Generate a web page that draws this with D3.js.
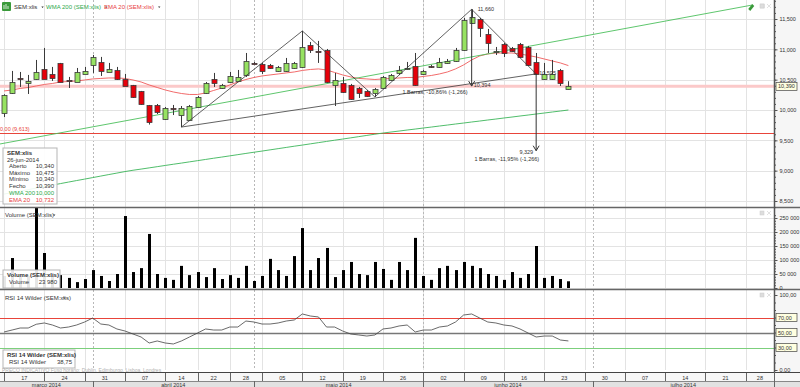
<!DOCTYPE html>
<html>
<head>
<meta charset="utf-8">
<script src="https://cdn.jsdelivr.net/npm/d3@7"></script>
<style>
  body { margin: 0; background: #fff; }
  svg { display: block; }
  text { font-family: "Liberation Sans", Arial, sans-serif; font-size: 6px; fill: #333; }
</style>
</head>
<body>
<script>
// SEM:xlis daily bars, 17 mar 2014 - 26 jun 2014
var days = ["2014-03-17","2014-03-18","2014-03-19","2014-03-20","2014-03-21","2014-03-24","2014-03-25","2014-03-26","2014-03-27","2014-03-28",
  "2014-03-31","2014-04-01","2014-04-02","2014-04-03","2014-04-04","2014-04-07","2014-04-08","2014-04-09","2014-04-10","2014-04-11",
  "2014-04-14","2014-04-15","2014-04-16","2014-04-17","2014-04-22","2014-04-23","2014-04-24","2014-04-25","2014-04-28","2014-04-29",
  "2014-04-30","2014-05-02","2014-05-05","2014-05-06","2014-05-07","2014-05-08","2014-05-09","2014-05-12","2014-05-13","2014-05-14",
  "2014-05-15","2014-05-16","2014-05-19","2014-05-20","2014-05-21","2014-05-22","2014-05-23","2014-05-26","2014-05-27","2014-05-28",
  "2014-05-29","2014-05-30","2014-06-02","2014-06-03","2014-06-04","2014-06-05","2014-06-06","2014-06-09","2014-06-10","2014-06-11",
  "2014-06-12","2014-06-13","2014-06-16","2014-06-17","2014-06-18","2014-06-19","2014-06-20","2014-06-23","2014-06-24","2014-06-25",
  "2014-06-26"]
var futureDays = ["2014-06-27","2014-06-30","2014-07-01","2014-07-02","2014-07-03","2014-07-04","2014-07-07","2014-07-08","2014-07-09",
  "2014-07-10","2014-07-11","2014-07-14","2014-07-15","2014-07-16","2014-07-17","2014-07-18","2014-07-21","2014-07-22","2014-07-23",
  "2014-07-24","2014-07-25","2014-07-28","2014-07-29","2014-07-30","2014-07-31"]

var opens = [9.950,10.281,10.528,10.446,10.512,10.677,10.594,10.776,10.495,10.462,
  10.594,10.743,10.792,10.627,10.660,10.512,10.413,10.314,10.083,10.083,
  9.851,10.033,9.917,9.835,10.050,10.281,10.512,10.363,10.462,10.479,
  10.578,10.776,10.759,10.743,10.644,10.644,10.693,10.710,11.072,10.973,
  10.990,10.413,10.446,10.413,10.363,10.314,10.281,10.363,10.495,10.611,
  10.685,10.726,10.594,10.726,10.710,10.776,10.808,10.990,11.435,11.501,
  11.254,10.957,11.089,11.023,11.089,11.039,10.792,10.512,10.512,10.660,
  10.340]
var highs = [10.260,10.644,10.627,10.578,10.825,11.023,10.710,10.776,10.545,10.693,
  10.710,10.908,10.875,10.776,10.710,10.594,10.413,10.314,10.083,10.099,
  10.050,10.083,10.066,10.083,10.231,10.462,10.611,10.430,10.627,10.660,
  10.940,10.792,10.776,10.759,10.726,10.858,10.792,11.303,11.122,11.139,
  11.006,10.611,10.545,10.430,10.380,10.330,10.363,10.561,10.594,10.726,
  10.792,10.940,10.660,10.743,10.858,10.841,11.023,11.518,11.660,11.518,
  11.336,11.039,11.105,11.039,11.105,11.056,10.940,10.776,10.825,10.677,
  10.475]
var lows = [9.884,10.264,10.380,10.264,10.495,10.512,10.479,10.462,10.363,10.462,
  10.594,10.611,10.561,10.627,10.495,10.396,10.198,10.083,9.760,9.934,
  9.835,9.917,9.719,9.818,10.033,10.264,10.380,10.347,10.446,10.462,
  10.545,10.759,10.594,10.677,10.627,10.627,10.677,10.693,10.940,10.776,
  10.446,10.066,10.281,10.165,10.198,10.215,10.215,10.347,10.479,10.578,
  10.660,10.396,10.578,10.693,10.693,10.759,10.792,10.973,11.419,11.204,
  10.940,10.907,10.874,10.957,10.858,10.726,10.578,10.495,10.495,10.396,
  10.340]
var closes = [10.248,10.462,10.512,10.479,10.627,10.512,10.528,10.462,10.487,10.627,
  10.644,10.875,10.644,10.677,10.512,10.396,10.215,10.099,9.802,9.967,
  10.033,10.017,10.033,10.066,10.215,10.446,10.446,10.413,10.561,10.545,
  10.808,10.768,10.644,10.693,10.710,10.776,10.776,11.039,10.990,10.965,
  10.462,10.495,10.297,10.182,10.281,10.231,10.347,10.545,10.578,10.660,
  10.693,10.413,10.644,10.710,10.792,10.808,10.990,11.485,11.534,11.353,
  11.105,10.973,10.940,10.973,10.874,10.743,10.595,10.594,10.594,10.446,
  10.390]
var volumes = [43000,107000,39000,43000,290000,125000,43000,46000,36000,21000,
  32000,64000,43000,25000,50000,257000,57000,71000,193000,50000,
  36000,29000,79000,46000,57000,39000,71000,32000,46000,36000,
  79000,25000,43000,104000,64000,43000,114000,214000,64000,107000,
  143000,39000,64000,93000,50000,46000,93000,68000,29000,93000,
  64000,179000,43000,29000,71000,79000,64000,93000,79000,71000,
  50000,43000,29000,57000,36000,50000,150000,36000,43000,32000,
  23980]
var rsi = [50.7,53.3,56.0,56.0,61.0,62.7,60.0,56.0,57.3,60.0,
  64.0,69.3,61.3,60.0,54.7,52.0,48.0,44.0,36.0,38.7,
  36.0,34.7,38.7,44.0,49.3,54.7,53.3,53.3,57.3,57.3,
  65.3,64.0,61.3,61.3,62.7,65.3,66.7,74.7,72.0,70.7,
  57.3,57.3,52.0,48.0,46.7,45.3,46.7,54.7,56.0,58.7,
  60.0,50.7,53.3,53.3,57.3,58.7,64.0,73.3,74.7,69.3,
  64.0,62.7,60.0,58.7,54.7,49.3,44.0,45.3,45.3,40.0,
  38.75]
var wma200 = [8.614,8.639,8.663,8.688,8.713,8.738,8.762,8.787,8.812,8.837,
  8.861,8.886,8.911,8.936,8.960,8.985,9.007,9.026,9.046,9.066,
  9.086,9.106,9.125,9.145,9.165,9.185,9.205,9.224,9.244,9.264,
  9.284,9.304,9.323,9.343,9.363,9.383,9.403,9.422,9.442,9.462,
  9.482,9.502,9.521,9.541,9.561,9.581,9.601,9.620,9.637,9.653,
  9.670,9.686,9.703,9.719,9.736,9.752,9.769,9.785,9.802,9.818,
  9.835,9.851,9.868,9.884,9.901,9.917,9.934,9.950,9.967,9.983,
  10.000]
var ema20 = [10.314,10.330,10.355,10.371,10.396,10.421,10.437,10.462,10.470,10.479,
  10.495,10.512,10.520,10.528,10.528,10.520,10.495,10.462,10.413,10.371,
  10.330,10.297,10.272,10.256,10.256,10.281,10.322,10.363,10.413,10.462,
  10.503,10.536,10.561,10.578,10.594,10.611,10.627,10.652,10.668,10.677,
  10.660,10.619,10.578,10.545,10.520,10.512,10.503,10.512,10.520,10.528,
  10.536,10.536,10.553,10.569,10.594,10.627,10.677,10.743,10.825,10.891,
  10.924,10.940,10.940,10.940,10.924,10.899,10.874,10.841,10.808,10.776,
  10.732]

var weekStarts = ["2014-03-17","2014-03-24","2014-03-31","2014-04-07","2014-04-14","2014-04-22","2014-04-28","2014-05-05","2014-05-12","2014-05-19",
  "2014-05-26","2014-06-02","2014-06-09","2014-06-16","2014-06-23","2014-06-30","2014-07-07","2014-07-14","2014-07-21","2014-07-28"]
var monthStarts = ["2014-04-01","2014-05-02","2014-06-02","2014-07-01"]
var monthNames = ["março 2014","abril 2014","maio 2014","junho 2014","julho 2014"]
var priceTicks = [8.5, 9, 9.5, 10, 10.5, 11, 11.5]
var volumeTicks = [0, 50000, 100000, 150000, 200000, 250000]
var rsiLevels = [70, 50, 30]
var zigzag = [["2014-04-16", 9.719], ["2014-05-12", 11.303], ["2014-05-23", 10.215], ["2014-06-10", 11.660], ["2014-06-20", 10.595]]
var supportLine = [["2014-04-16", 9.719], ["2014-06-20", 10.595]]
var trendLine = [[-0.5, 9.44], [92.8, 11.73]]   // bar index, price
// day, from, to, text, which side the end value sits on
var drops = [["2014-06-10", 11.660, 10.394, "1 Barras, -10,86% (-1,266)", "right"],
  ["2014-06-20", 10.595, 9.329, "1 Barras, -11,95% (-1,266)", "left"]]
var stopLevel = 9.613
var lastClose = 10.390

var width = 800, height = 387, axisX = 774
var panels = { main: [0, 207], volume: [208, 289], rsi: [290, 370] }

var loc = d3.formatLocale({ decimal: ",", thousands: " ", grouping: [3], currency: ["", ""] })
var fmtP = loc.format(".3f"), fmtV = loc.format(",d"), fmtR = loc.format(".2f")

var allDays = days.concat(futureDays)
var x = d3.scalePoint().domain(allDays).range([0, axisX]).padding(0.5)
var xi = d3.scaleLinear().domain([0, allDays.length - 1]).range([x(allDays[0]), x(allDays[allDays.length - 1])])
var y = d3.scaleLinear().domain([8.5, 11.5]).range([201, 19])
var yv = d3.scaleLinear().domain([0, 250000]).range([288, 218])
var yr = d3.scaleLinear().domain([0, 100]).range([370, 295])

var svg = d3.select("body").append("svg")
    .attr("width", width)
    .attr("height", height)

var defs = svg.append("defs")
Object.keys(panels).forEach(function(k) {
  defs.append("clipPath").attr("id", "clip-" + k)
    .append("rect").attr("x", 0).attr("y", panels[k][0]).attr("width", axisX).attr("height", panels[k][1] - panels[k][0])
})

// right axis strip
svg.append("rect").attr("x", axisX).attr("y", 0).attr("width", width - axisX).attr("height", 372).attr("fill", "#f6f6f6")

// vertical grid in every panel
Object.keys(panels).forEach(function(k) {
  var g = svg.append("g").attr("clip-path", "url(#clip-" + k + ")")
  g.selectAll(".vgrid").data(weekStarts).enter().append("line")
    .attr("x1", function(d) { return Math.round(x(d)) + 0.5 })
    .attr("x2", function(d) { return Math.round(x(d)) + 0.5 })
    .attr("y1", panels[k][0]).attr("y2", panels[k][1])
    .attr("stroke", "#e3e3e3")
  g.selectAll(".mgrid").data(monthStarts).enter().append("line")
    .attr("x1", function(d) { return Math.round(x(d)) + 0.5 })
    .attr("x2", function(d) { return Math.round(x(d)) + 0.5 })
    .attr("y1", panels[k][0]).attr("y2", panels[k][1])
    .attr("stroke", "#b8b8b8").attr("stroke-dasharray", "2,2")
})

// ---- main panel
var main = svg.append("g").attr("clip-path", "url(#clip-main)")

main.selectAll(".hgrid").data(priceTicks).enter().append("line")
  .attr("x1", 0).attr("x2", axisX)
  .attr("y1", function(d) { return Math.round(y(d)) + 0.5 })
  .attr("y2", function(d) { return Math.round(y(d)) + 0.5 })
  .attr("stroke", "#e3e3e3")

main.append("line")
  .attr("x1", 0).attr("x2", axisX)
  .attr("y1", Math.round(y(stopLevel)) + 0.5).attr("y2", Math.round(y(stopLevel)) + 0.5)
  .attr("stroke", "#e8443a")

main.append("line")
  .attr("x1", 0).attr("x2", axisX)
  .attr("y1", y(lastClose)).attr("y2", y(lastClose))
  .attr("stroke", "#fbc9c9").attr("stroke-width", 3)

var line = d3.line()
  .x(function(d, i) { return x(days[i]) })
  .y(function(d) { return y(d) })

main.append("path").datum(wma200).attr("d", line)
  .attr("fill", "none").attr("stroke", "#3cb55a").attr("stroke-width", 0.9)
main.append("path").datum(ema20).attr("d", line)
  .attr("fill", "none").attr("stroke", "#ef5a5a").attr("stroke-width", 0.9)

main.append("line")
  .attr("x1", xi(trendLine[0][0])).attr("y1", y(trendLine[0][1]))
  .attr("x2", xi(trendLine[1][0])).attr("y2", y(trendLine[1][1]))
  .attr("stroke", "#4cbf5c").attr("stroke-width", 0.9)
main.append("path")
  .attr("transform", "translate(" + xi(trendLine[1][0]) + "," + y(trendLine[1][1]) + ")")
  .attr("d", "M-4,4 L0,-1 L2,1 L-2,6 Z")
  .attr("fill", "#3a9a3a")
main.append("rect")
  .attr("x", xi(trendLine[1][0]) + 8).attr("y", y(trendLine[1][1]) - 1).attr("width", 4).attr("height", 4)
  .attr("fill", "#e4e4e4").attr("stroke", "#cfcfcf").attr("stroke-width", 0.5)

var candles = days.map(function(d, i) {
  return { day: d, o: opens[i], h: highs[i], l: lows[i], c: closes[i] }
})

main.selectAll(".wick").data(candles).enter().append("line")
  .attr("x1", function(d) { return Math.round(x(d.day)) + 0.5 })
  .attr("x2", function(d) { return Math.round(x(d.day)) + 0.5 })
  .attr("y1", function(d) { return y(d.h) })
  .attr("y2", function(d) { return y(d.l) })
  .attr("stroke", "#3a3a3a").attr("stroke-width", 1)

main.selectAll(".body").data(candles).enter().append("rect")
  .attr("x", function(d) { return Math.round(x(d.day)) - 2 })
  .attr("y", function(d) { return Math.round(y(Math.max(d.o, d.c))) + 0.5 })
  .attr("width", 5)
  .attr("height", function(d) { return Math.max(1, Math.round(Math.abs(y(d.o) - y(d.c)))) })
  .attr("fill", function(d) { return d.c >= d.o ? "#97e262" : "#e6000a" })
  .attr("stroke", "#3a3a3a").attr("stroke-width", 0.8)

var pt = d3.line()
  .x(function(d) { return x(d[0]) })
  .y(function(d) { return y(d[1]) })

main.append("path").datum(zigzag).attr("d", pt)
  .attr("fill", "none").attr("stroke", "#3a3a3a").attr("stroke-width", 0.8)
main.append("path").datum(supportLine).attr("d", pt)
  .attr("fill", "none").attr("stroke", "#3a3a3a").attr("stroke-width", 0.8)

drops.forEach(function(d) {
  var px = x(d[0]), y1 = y(d[1]), y2 = y(d[2])
  main.append("line").attr("x1", px).attr("x2", px).attr("y1", y1).attr("y2", y2)
    .attr("stroke", "#333").attr("stroke-width", 1)
  main.append("path").attr("d", "M" + (px - 3) + "," + (y2 - 5) + " L" + px + "," + y2 + " L" + (px + 3) + "," + (y2 - 5))
    .attr("fill", "none").attr("stroke", "#333").attr("stroke-width", 1)
  if (d[4] == "right") {
    main.append("text").attr("x", px + 2).attr("y", y2 + 1).text(fmtP(d[2])).style("font-size", "5.5px")
    main.append("text").attr("x", px - 4).attr("y", y2 + 8).attr("text-anchor", "end").text(d[3]).style("font-size", "5.5px")
  } else {
    main.append("text").attr("x", px - 3).attr("y", y2 + 3).attr("text-anchor", "end").text(fmtP(d[2])).style("font-size", "5.5px")
    main.append("text").attr("x", px + 3).attr("y", y2 + 10).attr("text-anchor", "end").text(d[3]).style("font-size", "5.5px")
  }
})
main.append("text").attr("x", x(drops[0][0]) + 6).attr("y", y(drops[0][1]) + 2).text(fmtP(drops[0][1])).style("font-size", "5.5px")
main.append("text").attr("x", x(drops[1][0]) + 3).attr("y", y(drops[1][1]) + 1).text(fmtP(drops[1][1])).style("font-size", "5.5px")

main.append("text").attr("x", 0).attr("y", y(stopLevel) - 2)
  .text("0,00 (" + fmtP(stopLevel) + ")").style("fill", "#e8443a").style("font-size", "5.5px")

// header
var hdr = svg.append("g")
hdr.append("rect").attr("x", 2).attr("y", 2).attr("width", 9).attr("height", 9).attr("fill", "#3a9a3a").attr("rx", 1)
hdr.append("path").attr("d", "M4,9 L4,5 M6,9 L6,4 M8,9 L8,6").attr("stroke", "#fff").attr("stroke-width", 0.8)
var hdrItems = [["SEM:xlis", "#333", 14], ["WMA 200 (SEM:xlis)", "#2ea84a", 46], ["EMA 20 (SEM:xlis)", "#e84040", 104]]
hdrItems.forEach(function(d) {
  var t = hdr.append("text").attr("x", d[2]).attr("y", 9).text(d[0]).style("fill", d[1])
  var w = t.node().getComputedTextLength()
  hdr.append("path").attr("d", "M" + (d[2] + w + 4) + ",6.5 l2.4,0 l-1.2,1.6 z").attr("fill", "#333")
})

// tooltip box
var tip = svg.append("g").attr("transform", "translate(3,148)")
tip.append("rect").attr("width", 54).attr("height", 56).attr("fill", "#fff").attr("fill-opacity", 0.9).attr("stroke", "#b5b5b5")
tip.append("text").attr("x", 4).attr("y", 7).text("SEM:xlis").style("font-weight", "bold")
tip.append("text").attr("x", 4).attr("y", 13.5).text("26-jun-2014")
var tipRows = [["Aberto", opens[70], "#333"], ["Máximo", highs[70], "#333"], ["Mínimo", lows[70], "#333"], ["Fecho", closes[70], "#333"],
  ["WMA 200", wma200[70], "#2ea84a"], ["EMA 20", ema20[70], "#e84040"]]
tipRows.forEach(function(d, i) {
  tip.append("text").attr("x", 6).attr("y", 20 + i * 6.7).text(d[0]).style("fill", d[2])
  tip.append("text").attr("x", 51).attr("y", 20 + i * 6.7).attr("text-anchor", "end").text(fmtP(d[1])).style("fill", d[2])
})

// ---- volume panel
var vol = svg.append("g").attr("clip-path", "url(#clip-volume)")
vol.selectAll(".hgrid").data(volumeTicks).enter().append("line")
  .attr("x1", 0).attr("x2", axisX)
  .attr("y1", function(d) { return Math.round(yv(d)) + 0.5 })
  .attr("y2", function(d) { return Math.round(yv(d)) + 0.5 })
  .attr("stroke", "#e3e3e3")
vol.selectAll(".bar").data(volumes).enter().append("rect")
  .attr("x", function(d, i) { return Math.round(x(days[i])) - 1 })
  .attr("y", function(d) { return yv(d) })
  .attr("width", 3)
  .attr("height", function(d) { return yv(0) - yv(d) })
  .attr("fill", "#000")
svg.append("text").attr("x", 5).attr("y", 217).text("Volume (SEM:xlis)")
svg.append("path").attr("d", "M53,214.5 l2.4,0 l-1.2,1.6 z").attr("fill", "#333")
var vtip = svg.append("g").attr("transform", "translate(3,270)")
vtip.append("rect").attr("width", 57).attr("height", 18).attr("fill", "#fff").attr("fill-opacity", 0.9).attr("stroke", "#b5b5b5")
vtip.append("text").attr("x", 4).attr("y", 7).text("Volume (SEM:xlis)").style("font-weight", "bold")
vtip.append("text").attr("x", 6).attr("y", 14).text("Volume")
vtip.append("text").attr("x", 54).attr("y", 14).attr("text-anchor", "end").text(fmtV(volumes[70]))

// ---- rsi panel
var rp = svg.append("g").attr("clip-path", "url(#clip-rsi)")
var lvlColor = { 70: "#e8443a", 50: "#777", 30: "#7ccf7c" }
rp.selectAll(".lvl").data(rsiLevels).enter().append("line")
  .attr("x1", 0).attr("x2", axisX)
  .attr("y1", function(d) { return Math.round(yr(d)) + 0.5 })
  .attr("y2", function(d) { return Math.round(yr(d)) + 0.5 })
  .attr("stroke", function(d) { return lvlColor[d] })
  .attr("stroke-width", function(d) { return d == 50 ? 1.5 : 1 })
rp.append("path").datum(rsi)
  .attr("d", d3.line().x(function(d, i) { return x(days[i]) }).y(function(d) { return yr(d) }))
  .attr("fill", "none").attr("stroke", "#444").attr("stroke-width", 0.8)
svg.append("text").attr("x", 5).attr("y", 300).text("RSI 14 Wilder (SEM:xlis)")
svg.append("path").attr("d", "M63,297.5 l2.4,0 l-1.2,1.6 z").attr("fill", "#333")
var rtip = svg.append("g").attr("transform", "translate(3,350)")
rtip.append("rect").attr("width", 72).attr("height", 18).attr("fill", "#fff").attr("fill-opacity", 0.9).attr("stroke", "#b5b5b5")
rtip.append("text").attr("x", 4).attr("y", 7).text("RSI 14 Wilder (SEM:xlis)").style("font-weight", "bold")
rtip.append("text").attr("x", 6).attr("y", 14).text("RSI 14 Wilder")
rtip.append("text").attr("x", 69).attr("y", 14).attr("text-anchor", "end").text(fmtR(rsi[70]))

// small panel icons
;[6, 213, 295].forEach(function(py) {
  svg.append("rect").attr("x", 760).attr("y", py - 2).attr("width", 4).attr("height", 4).attr("fill", "#ddd").attr("stroke", "#ccc").attr("stroke-width", 0.5)
  svg.append("path").attr("d", "M767," + (py - 2) + " l4,4 M771," + (py - 2) + " l-4,4").attr("stroke", "#ccc").attr("stroke-width", 0.6)
})

// panel separators
;[207.5, 289.5].forEach(function(py) {
  svg.append("line").attr("x1", 0).attr("x2", width).attr("y1", py).attr("y2", py).attr("stroke", "#666").attr("stroke-width", 1.5)
})

// ---- right axes
function minorTicks(a, b, s) { return d3.range(a, b + s / 2, s) }

var ax1 = svg.append("g").attr("transform", "translate(" + axisX + ",0)")
  .call(d3.axisRight(y).tickValues(minorTicks(8.4, 11.8, 0.1)).tickSize(2).tickFormat(""))
var ax1b = svg.append("g").attr("transform", "translate(" + axisX + ",0)")
  .call(d3.axisRight(y).tickValues(priceTicks).tickSize(3.5).tickPadding(2).tickFormat(fmtP))
var ax2 = svg.append("g").attr("transform", "translate(" + axisX + ",0)")
  .call(d3.axisRight(yv).tickValues(minorTicks(0, 260000, 10000)).tickSize(2).tickFormat(""))
var ax2b = svg.append("g").attr("transform", "translate(" + axisX + ",0)")
  .call(d3.axisRight(yv).tickValues(volumeTicks).tickSize(3.5).tickPadding(2).tickFormat(fmtV))
var ax3 = svg.append("g").attr("transform", "translate(" + axisX + ",0)")
  .call(d3.axisRight(yr).tickValues(minorTicks(0, 100, 10)).tickSize(2).tickFormat(""))
var ax3b = svg.append("g").attr("transform", "translate(" + axisX + ",0)")
  .call(d3.axisRight(yr).tickValues([0, 100]).tickSize(3.5).tickPadding(2).tickFormat(fmtR))
;[ax1, ax1b, ax2, ax2b, ax3, ax3b].forEach(function(a) {
  a.select(".domain").remove()
  a.selectAll("line").attr("stroke", "#555")
  a.selectAll("text").style("font-size", "5.5px").style("fill", "#333").style("font-family", "Liberation Sans, Arial, sans-serif")
})
svg.append("line").attr("x1", axisX + 0.5).attr("x2", axisX + 0.5).attr("y1", 0).attr("y2", 372)
  .attr("stroke", "#555").attr("stroke-width", 1.5)

function valueBox(py, label) {
  svg.append("rect").attr("x", axisX + 2).attr("y", py - 4).attr("width", 21).attr("height", 8)
    .attr("fill", "#ffffe0").attr("stroke", "#444").attr("stroke-width", 0.7)
  svg.append("text").attr("x", axisX + 4).attr("y", py + 2).text(label).style("font-size", "5.5px")
}
valueBox(y(lastClose), fmtP(lastClose))
rsiLevels.forEach(function(d) { valueBox(yr(d), fmtR(d)) })

// ---- footer & date axis
svg.append("text").attr("x", 2).attr("y", 371.5).text("PREÇO INDICATIVO      Fuso horário: Dublin, Edimburgo, Lisboa, Londres")
  .style("fill", "#b0b0b0").style("font-size", "5px")

svg.append("rect").attr("x", 0).attr("y", 373).attr("width", width).attr("height", 8).attr("fill", "#f7f7f7")
svg.append("rect").attr("x", 0).attr("y", 381).attr("width", width).attr("height", 6).attr("fill", "#e2e2e2")
svg.append("line").attr("x1", 0).attr("x2", width).attr("y1", 372.5).attr("y2", 372.5).attr("stroke", "#444")
svg.append("line").attr("x1", 0).attr("x2", width).attr("y1", 381.5).attr("y2", 381.5).attr("stroke", "#888")

var wk = weekStarts.map(function(d, i) {
  var a = x(d), b = i < weekStarts.length - 1 ? x(weekStarts[i + 1]) : axisX
  return { label: d.slice(8, 10), a: a, b: b }
})
svg.selectAll(".wsep").data(wk).enter().append("line")
  .attr("x1", function(d) { return Math.round(d.a) + 0.5 })
  .attr("x2", function(d) { return Math.round(d.a) + 0.5 })
  .attr("y1", 373).attr("y2", 381).attr("stroke", "#666")
svg.selectAll(".wlab").data(wk).enter().append("text")
  .attr("x", function(d) { return (d.a + d.b) / 2 })
  .attr("y", 379.5).attr("text-anchor", "middle")
  .text(function(d) { return d.label })
  .style("font-size", "5.5px")

var ms = [0].concat(monthStarts.map(function(d) { return x(d) })).concat([axisX])
svg.selectAll(".msep").data(monthStarts).enter().append("line")
  .attr("x1", function(d) { return Math.round(x(d)) + 0.5 })
  .attr("x2", function(d) { return Math.round(x(d)) + 0.5 })
  .attr("y1", 381).attr("y2", 387).attr("stroke", "#666")
svg.selectAll(".mlab").data(monthNames).enter().append("text")
  .attr("x", function(d, i) { return (ms[i] + ms[i + 1]) / 2 })
  .attr("y", 386.5).attr("text-anchor", "middle")
  .text(function(d) { return d })
  .style("font-size", "5.5px")
svg.append("line").attr("x1", axisX + 0.5).attr("x2", axisX + 0.5).attr("y1", 372).attr("y2", 387).attr("stroke", "#666")
</script>
</body>
</html>
